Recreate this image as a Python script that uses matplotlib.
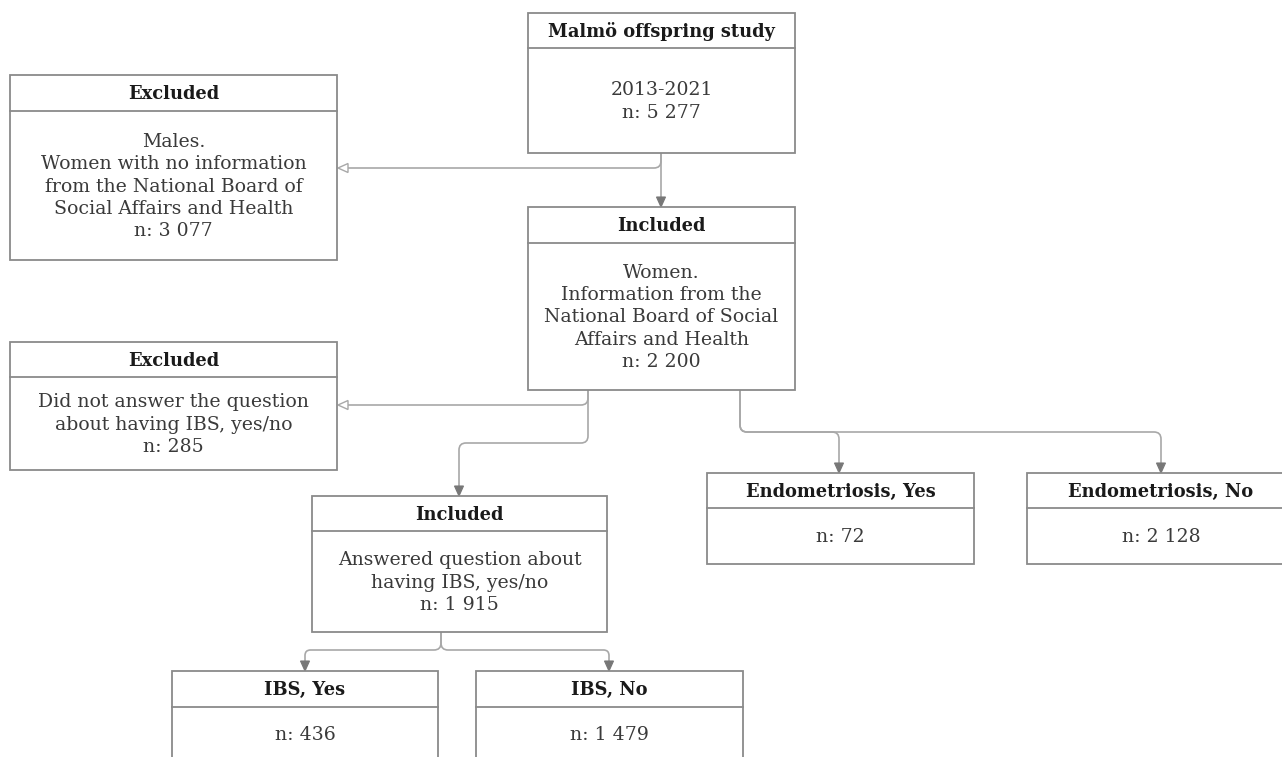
#!/usr/bin/env python

import numpy as np
import matplotlib
matplotlib.use('Agg')
import matplotlib.pyplot as plt
from matplotlib.path import Path
from matplotlib.patches import PathPatch, Polygon, Rectangle

###########################
## Flow chart content

titles = ['Malmö offspring study', 'Excluded', 'Included', 'Excluded',
          'Included', 'Endometriosis, Yes', 'Endometriosis, No',
          'IBS, Yes', 'IBS, No']

bodies = ['2013-2021\nn: 5 277',
          'Males.\nWomen with no information\nfrom the National Board of\nSocial Affairs and Health\nn: 3 077',
          'Women.\nInformation from the\nNational Board of Social\nAffairs and Health\nn: 2 200',
          'Did not answer the question\nabout having IBS, yes/no\nn: 285',
          'Answered question about\nhaving IBS, yes/no\nn: 1 915',
          'n: 72',
          'n: 2 128',
          'n: 436',
          'n: 1 479']

## Layout in pixels (x0, x1, top, header bottom, bottom)
boxes = [(528, 795, 13, 48, 153),
         (10, 337, 75, 111, 260),
         (528, 795, 207, 243, 390),
         (10, 337, 342, 377, 470),
         (312, 607, 496, 531, 632),
         (707, 974, 473, 508, 564),
         (1027, 1295, 473, 508, 564),
         (172, 438, 671, 707, 762),
         (476, 743, 671, 707, 762)]

## Connectors: (polyline points, head type)
links = [([(661, 153), (661, 207)], 'filled'),
         ([(661, 153), (661, 168), (338, 168)], 'hollow'),
         ([(588, 390), (588, 405), (338, 405)], 'hollow'),
         ([(588, 390), (588, 443), (459, 443), (459, 496)], 'filled'),
         ([(740, 390), (740, 432), (839, 432), (839, 473)], 'filled'),
         ([(740, 390), (740, 432), (1161, 432), (1161, 473)], 'filled'),
         ([(441, 632), (441, 650), (305, 650), (305, 671)], 'filled'),
         ([(441, 632), (441, 650), (609, 650), (609, 671)], 'filled')]

W, H = 1282, 757
edge_col = '#8a8a8a'
line_col = '#a8a8a8'
head_col = '#777777'
font = 'DejaVu Serif'

#############################

def rounded_path(pts, r=7, head_len=0):
    """Orthogonal polyline with rounded corners, shortened at the end"""
    pts = [np.array(p, float) for p in pts]
    # shorten last segment for the arrow head
    d = pts[-1] - pts[-2]
    d = d / np.linalg.norm(d)
    pts[-1] = pts[-1] - d * head_len

    verts = [pts[0]]
    codes = [Path.MOVETO]
    for i in range(1, len(pts) - 1):
        a, b, c = pts[i - 1], pts[i], pts[i + 1]
        u = (b - a) / np.linalg.norm(b - a)
        v = (c - b) / np.linalg.norm(c - b)
        rr = min(r, np.linalg.norm(b - a) / 2, np.linalg.norm(c - b) / 2)
        verts += [b - u * rr, b, b + v * rr]
        codes += [Path.LINETO, Path.CURVE3, Path.CURVE3]
    verts.append(pts[-1])
    codes.append(Path.LINETO)
    return Path(verts, codes)


def draw_link(ax, pts, head):
    hl, hw = 10, 4.5
    ax.add_patch(PathPatch(rounded_path(pts, head_len=hl), fc='none',
                           ec=line_col, lw=1.2, capstyle='butt'))
    tip = np.array(pts[-1], float)
    d = tip - np.array(pts[-2], float)
    d = d / np.linalg.norm(d)
    n = np.array([-d[1], d[0]])
    base = tip - d * hl
    tri = [tip, base + n * hw, base - n * hw]
    if head == 'filled':
        ax.add_patch(Polygon(tri, closed=True, fc=head_col, ec=head_col, lw=0.8))
    else:
        ax.add_patch(Polygon(tri, closed=True, fc='white', ec=line_col, lw=1.0))


def draw_box(ax, box, title, body):
    x0, x1, top, mid, bot = box
    ax.add_patch(Rectangle((x0, top), x1 - x0, bot - top, fc='white',
                           ec=edge_col, lw=1.3, zorder=2))
    ax.plot([x0, x1], [mid, mid], color=edge_col, lw=1.3, zorder=3)
    xc = (x0 + x1) / 2.0
    ax.text(xc, (top + mid) / 2.0 + 1, title, ha='center', va='center',
            fontsize=12.9, fontweight='bold', family=font, color='#1a1a1a',
            zorder=4)
    ax.text(xc, (mid + bot) / 2.0 + 1, body, ha='center', va='center',
            fontsize=13.6, family=font, color='#3a3a3a', linespacing=1.32,
            zorder=4)


#############################

if __name__ == "__main__":

    fig = plt.figure(figsize=(W / 100.0, H / 100.0), dpi=100)
    ax = fig.add_axes([0, 0, 1, 1])
    ax.set_xlim(0, W)
    ax.set_ylim(H, 0)
    ax.axis('off')

    for pts, head in links:
        draw_link(ax, pts, head)

    for box, title, body in zip(boxes, titles, bodies):
        draw_box(ax, box, title, body)

    fig.savefig('out.png', dpi=100, facecolor='white')
